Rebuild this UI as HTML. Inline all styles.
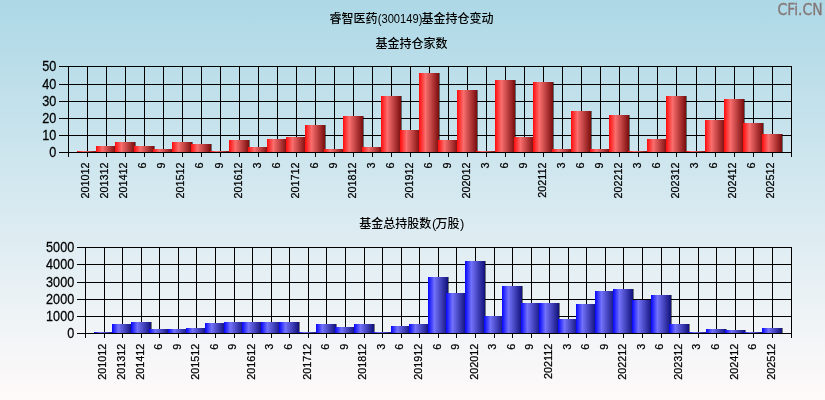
<!DOCTYPE html>
<html lang="zh-CN"><head><meta charset="utf-8"><title>睿智医药(300149)基金持仓变动</title>
<style>html,body{margin:0;padding:0;background:#fff;}body{width:825px;height:400px;overflow:hidden;}svg{display:block;}text{font-family:"Liberation Sans", "Noto Sans CJK SC", sans-serif;fill:#000;}.ax text{stroke:#000;stroke-width:0.25px;}.tt text{font-weight:500;}</style>
</head><body>
<svg width="825" height="400" viewBox="0 0 825 400">
<defs>
<linearGradient id="bg" x1="0" y1="0" x2="0" y2="1"><stop offset="0" stop-color="#add8e6"/><stop offset="1" stop-color="#fffafa"/></linearGradient>
<linearGradient id="gr" x1="0" y1="0" x2="1" y2="0"><stop offset="0" stop-color="#ff0a0a"/><stop offset="0.32" stop-color="#fa6e6e"/><stop offset="1" stop-color="#7a0c0c"/></linearGradient>
<linearGradient id="gb" x1="0" y1="0" x2="1" y2="0"><stop offset="0" stop-color="#0505ff"/><stop offset="0.32" stop-color="#7272fa"/><stop offset="1" stop-color="#10107a"/></linearGradient>
</defs>
<rect x="0" y="0" width="825" height="400" fill="url(#bg)"/>
<g shape-rendering="crispEdges"><rect x="59" y="152" width="733" height="1" fill="#000"/><rect x="59" y="135" width="733" height="1" fill="#000"/><rect x="59" y="118" width="733" height="1" fill="#000"/><rect x="59" y="101" width="733" height="1" fill="#000"/><rect x="59" y="84" width="733" height="1" fill="#000"/><rect x="59" y="66" width="733" height="1" fill="#000"/><rect x="68" y="66" width="1" height="91" fill="#000"/><rect x="87" y="66" width="1" height="91" fill="#000"/><rect x="106" y="66" width="1" height="91" fill="#000"/><rect x="125" y="66" width="1" height="91" fill="#000"/><rect x="144" y="66" width="1" height="91" fill="#000"/><rect x="163" y="66" width="1" height="91" fill="#000"/><rect x="182" y="66" width="1" height="91" fill="#000"/><rect x="201" y="66" width="1" height="91" fill="#000"/><rect x="220" y="66" width="1" height="91" fill="#000"/><rect x="239" y="66" width="1" height="91" fill="#000"/><rect x="258" y="66" width="1" height="91" fill="#000"/><rect x="277" y="66" width="1" height="91" fill="#000"/><rect x="296" y="66" width="1" height="91" fill="#000"/><rect x="315" y="66" width="1" height="91" fill="#000"/><rect x="334" y="66" width="1" height="91" fill="#000"/><rect x="353" y="66" width="1" height="91" fill="#000"/><rect x="372" y="66" width="1" height="91" fill="#000"/><rect x="391" y="66" width="1" height="91" fill="#000"/><rect x="410" y="66" width="1" height="91" fill="#000"/><rect x="429" y="66" width="1" height="91" fill="#000"/><rect x="448" y="66" width="1" height="91" fill="#000"/><rect x="467" y="66" width="1" height="91" fill="#000"/><rect x="486" y="66" width="1" height="91" fill="#000"/><rect x="505" y="66" width="1" height="91" fill="#000"/><rect x="524" y="66" width="1" height="91" fill="#000"/><rect x="543" y="66" width="1" height="91" fill="#000"/><rect x="562" y="66" width="1" height="91" fill="#000"/><rect x="581" y="66" width="1" height="91" fill="#000"/><rect x="600" y="66" width="1" height="91" fill="#000"/><rect x="619" y="66" width="1" height="91" fill="#000"/><rect x="638" y="66" width="1" height="91" fill="#000"/><rect x="657" y="66" width="1" height="91" fill="#000"/><rect x="676" y="66" width="1" height="91" fill="#000"/><rect x="696" y="66" width="1" height="91" fill="#000"/><rect x="715" y="66" width="1" height="91" fill="#000"/><rect x="734" y="66" width="1" height="91" fill="#000"/><rect x="753" y="66" width="1" height="91" fill="#000"/><rect x="772" y="66" width="1" height="91" fill="#000"/><rect x="791" y="66" width="1" height="91" fill="#000"/></g>
<g><rect x="78" y="151" width="20" height="1" fill="#000" fill-opacity="0.5"/><rect x="77" y="151" width="20" height="1" fill="url(#gr)"/><rect x="97" y="146" width="20" height="6" fill="#000" fill-opacity="0.5"/><rect x="96" y="146" width="20" height="6" fill="url(#gr)"/><rect x="116" y="142" width="20" height="10" fill="#000" fill-opacity="0.5"/><rect x="115" y="142" width="20" height="10" fill="url(#gr)"/><rect x="135" y="146" width="20" height="6" fill="#000" fill-opacity="0.5"/><rect x="134" y="146" width="20" height="6" fill="url(#gr)"/><rect x="154" y="149" width="20" height="3" fill="#000" fill-opacity="0.5"/><rect x="153" y="149" width="20" height="3" fill="url(#gr)"/><rect x="173" y="142" width="20" height="10" fill="#000" fill-opacity="0.5"/><rect x="172" y="142" width="20" height="10" fill="url(#gr)"/><rect x="192" y="144" width="20" height="8" fill="#000" fill-opacity="0.5"/><rect x="191" y="144" width="20" height="8" fill="url(#gr)"/><rect x="211" y="151" width="20" height="1" fill="#000" fill-opacity="0.5"/><rect x="210" y="151" width="20" height="1" fill="url(#gr)"/><rect x="230" y="140" width="20" height="12" fill="#000" fill-opacity="0.5"/><rect x="229" y="140" width="20" height="12" fill="url(#gr)"/><rect x="249" y="147" width="20" height="5" fill="#000" fill-opacity="0.5"/><rect x="248" y="147" width="20" height="5" fill="url(#gr)"/><rect x="268" y="139" width="20" height="13" fill="#000" fill-opacity="0.5"/><rect x="267" y="139" width="20" height="13" fill="url(#gr)"/><rect x="287" y="137" width="20" height="15" fill="#000" fill-opacity="0.5"/><rect x="286" y="137" width="20" height="15" fill="url(#gr)"/><rect x="306" y="125" width="20" height="27" fill="#000" fill-opacity="0.5"/><rect x="305" y="125" width="20" height="27" fill="url(#gr)"/><rect x="325" y="149" width="20" height="3" fill="#000" fill-opacity="0.5"/><rect x="324" y="149" width="20" height="3" fill="url(#gr)"/><rect x="344" y="116" width="20" height="36" fill="#000" fill-opacity="0.5"/><rect x="343" y="116" width="20" height="36" fill="url(#gr)"/><rect x="363" y="147" width="20" height="5" fill="#000" fill-opacity="0.5"/><rect x="362" y="147" width="20" height="5" fill="url(#gr)"/><rect x="382" y="96" width="20" height="56" fill="#000" fill-opacity="0.5"/><rect x="381" y="96" width="20" height="56" fill="url(#gr)"/><rect x="401" y="130" width="20" height="22" fill="#000" fill-opacity="0.5"/><rect x="400" y="130" width="20" height="22" fill="url(#gr)"/><rect x="420" y="73" width="20" height="79" fill="#000" fill-opacity="0.5"/><rect x="419" y="73" width="20" height="79" fill="url(#gr)"/><rect x="439" y="140" width="20" height="12" fill="#000" fill-opacity="0.5"/><rect x="438" y="140" width="20" height="12" fill="url(#gr)"/><rect x="458" y="90" width="20" height="62" fill="#000" fill-opacity="0.5"/><rect x="457" y="90" width="20" height="62" fill="url(#gr)"/><rect x="477" y="151" width="20" height="1" fill="#000" fill-opacity="0.5"/><rect x="476" y="151" width="20" height="1" fill="url(#gr)"/><rect x="496" y="80" width="20" height="72" fill="#000" fill-opacity="0.5"/><rect x="495" y="80" width="20" height="72" fill="url(#gr)"/><rect x="515" y="137" width="20" height="15" fill="#000" fill-opacity="0.5"/><rect x="514" y="137" width="20" height="15" fill="url(#gr)"/><rect x="534" y="82" width="20" height="70" fill="#000" fill-opacity="0.5"/><rect x="533" y="82" width="20" height="70" fill="url(#gr)"/><rect x="553" y="149" width="20" height="3" fill="#000" fill-opacity="0.5"/><rect x="552" y="149" width="20" height="3" fill="url(#gr)"/><rect x="572" y="111" width="20" height="41" fill="#000" fill-opacity="0.5"/><rect x="571" y="111" width="20" height="41" fill="url(#gr)"/><rect x="591" y="149" width="20" height="3" fill="#000" fill-opacity="0.5"/><rect x="590" y="149" width="20" height="3" fill="url(#gr)"/><rect x="610" y="115" width="20" height="37" fill="#000" fill-opacity="0.5"/><rect x="609" y="115" width="20" height="37" fill="url(#gr)"/><rect x="629" y="151" width="20" height="1" fill="#000" fill-opacity="0.5"/><rect x="628" y="151" width="20" height="1" fill="url(#gr)"/><rect x="648" y="139" width="20" height="13" fill="#000" fill-opacity="0.5"/><rect x="647" y="139" width="20" height="13" fill="url(#gr)"/><rect x="667" y="96" width="20" height="56" fill="#000" fill-opacity="0.5"/><rect x="666" y="96" width="20" height="56" fill="url(#gr)"/><rect x="687" y="151" width="20" height="1" fill="#000" fill-opacity="0.5"/><rect x="686" y="151" width="20" height="1" fill="url(#gr)"/><rect x="706" y="120" width="20" height="32" fill="#000" fill-opacity="0.5"/><rect x="705" y="120" width="20" height="32" fill="url(#gr)"/><rect x="725" y="99" width="20" height="53" fill="#000" fill-opacity="0.5"/><rect x="724" y="99" width="20" height="53" fill="url(#gr)"/><rect x="744" y="123" width="20" height="29" fill="#000" fill-opacity="0.5"/><rect x="743" y="123" width="20" height="29" fill="url(#gr)"/><rect x="763" y="134" width="20" height="18" fill="#000" fill-opacity="0.5"/><rect x="762" y="134" width="20" height="18" fill="url(#gr)"/></g>
<rect x="59" y="152" width="733" height="1" fill="#000" shape-rendering="crispEdges"/>
<g class="ax"><text transform="translate(56.3 157.4) scale(0.89 1)" text-anchor="end" font-size="14.2">0</text><text transform="translate(56.3 140.4) scale(0.89 1)" text-anchor="end" font-size="14.2">10</text><text transform="translate(56.3 123.4) scale(0.89 1)" text-anchor="end" font-size="14.2">20</text><text transform="translate(56.3 106.4) scale(0.89 1)" text-anchor="end" font-size="14.2">30</text><text transform="translate(56.3 89.4) scale(0.89 1)" text-anchor="end" font-size="14.2">40</text><text transform="translate(56.3 71.4) scale(0.89 1)" text-anchor="end" font-size="14.2">50</text><text transform="translate(89.2 162.5) rotate(-90) scale(0.93 1)" text-anchor="end" font-size="11.6">201012</text><text transform="translate(108.3 162.5) rotate(-90) scale(0.93 1)" text-anchor="end" font-size="11.6">201312</text><text transform="translate(127.3 162.5) rotate(-90) scale(0.93 1)" text-anchor="end" font-size="11.6">201412</text><text transform="translate(146.3 162.5) rotate(-90) scale(0.93 1)" text-anchor="end" font-size="11.6">6</text><text transform="translate(165.4 162.5) rotate(-90) scale(0.93 1)" text-anchor="end" font-size="11.6">9</text><text transform="translate(184.4 162.5) rotate(-90) scale(0.93 1)" text-anchor="end" font-size="11.6">201512</text><text transform="translate(203.4 162.5) rotate(-90) scale(0.93 1)" text-anchor="end" font-size="11.6">6</text><text transform="translate(222.5 162.5) rotate(-90) scale(0.93 1)" text-anchor="end" font-size="11.6">9</text><text transform="translate(241.5 162.5) rotate(-90) scale(0.93 1)" text-anchor="end" font-size="11.6">201612</text><text transform="translate(260.5 162.5) rotate(-90) scale(0.93 1)" text-anchor="end" font-size="11.6">3</text><text transform="translate(279.6 162.5) rotate(-90) scale(0.93 1)" text-anchor="end" font-size="11.6">6</text><text transform="translate(298.6 162.5) rotate(-90) scale(0.93 1)" text-anchor="end" font-size="11.6">201712</text><text transform="translate(317.6 162.5) rotate(-90) scale(0.93 1)" text-anchor="end" font-size="11.6">6</text><text transform="translate(336.6 162.5) rotate(-90) scale(0.93 1)" text-anchor="end" font-size="11.6">9</text><text transform="translate(355.7 162.5) rotate(-90) scale(0.93 1)" text-anchor="end" font-size="11.6">201812</text><text transform="translate(374.7 162.5) rotate(-90) scale(0.93 1)" text-anchor="end" font-size="11.6">3</text><text transform="translate(393.7 162.5) rotate(-90) scale(0.93 1)" text-anchor="end" font-size="11.6">6</text><text transform="translate(412.8 162.5) rotate(-90) scale(0.93 1)" text-anchor="end" font-size="11.6">201912</text><text transform="translate(431.8 162.5) rotate(-90) scale(0.93 1)" text-anchor="end" font-size="11.6">6</text><text transform="translate(450.8 162.5) rotate(-90) scale(0.93 1)" text-anchor="end" font-size="11.6">9</text><text transform="translate(469.8 162.5) rotate(-90) scale(0.93 1)" text-anchor="end" font-size="11.6">202012</text><text transform="translate(488.9 162.5) rotate(-90) scale(0.93 1)" text-anchor="end" font-size="11.6">3</text><text transform="translate(507.9 162.5) rotate(-90) scale(0.93 1)" text-anchor="end" font-size="11.6">6</text><text transform="translate(526.9 162.5) rotate(-90) scale(0.93 1)" text-anchor="end" font-size="11.6">9</text><text transform="translate(546.0 162.5) rotate(-90) scale(0.93 1)" text-anchor="end" font-size="11.6">202112</text><text transform="translate(565.0 162.5) rotate(-90) scale(0.93 1)" text-anchor="end" font-size="11.6">3</text><text transform="translate(584.0 162.5) rotate(-90) scale(0.93 1)" text-anchor="end" font-size="11.6">6</text><text transform="translate(603.1 162.5) rotate(-90) scale(0.93 1)" text-anchor="end" font-size="11.6">9</text><text transform="translate(622.1 162.5) rotate(-90) scale(0.93 1)" text-anchor="end" font-size="11.6">202212</text><text transform="translate(641.1 162.5) rotate(-90) scale(0.93 1)" text-anchor="end" font-size="11.6">3</text><text transform="translate(660.2 162.5) rotate(-90) scale(0.93 1)" text-anchor="end" font-size="11.6">6</text><text transform="translate(679.2 162.5) rotate(-90) scale(0.93 1)" text-anchor="end" font-size="11.6">202312</text><text transform="translate(698.2 162.5) rotate(-90) scale(0.93 1)" text-anchor="end" font-size="11.6">3</text><text transform="translate(717.2 162.5) rotate(-90) scale(0.93 1)" text-anchor="end" font-size="11.6">6</text><text transform="translate(736.3 162.5) rotate(-90) scale(0.93 1)" text-anchor="end" font-size="11.6">202412</text><text transform="translate(755.3 162.5) rotate(-90) scale(0.93 1)" text-anchor="end" font-size="11.6">6</text><text transform="translate(774.3 162.5) rotate(-90) scale(0.93 1)" text-anchor="end" font-size="11.6">202512</text></g>
<g shape-rendering="crispEdges"><rect x="77" y="333" width="715" height="1" fill="#000"/><rect x="77" y="316" width="715" height="1" fill="#000"/><rect x="77" y="299" width="715" height="1" fill="#000"/><rect x="77" y="282" width="715" height="1" fill="#000"/><rect x="77" y="264" width="715" height="1" fill="#000"/><rect x="77" y="247" width="715" height="1" fill="#000"/><rect x="85" y="247" width="1" height="91" fill="#000"/><rect x="104" y="247" width="1" height="91" fill="#000"/><rect x="122" y="247" width="1" height="91" fill="#000"/><rect x="141" y="247" width="1" height="91" fill="#000"/><rect x="159" y="247" width="1" height="91" fill="#000"/><rect x="178" y="247" width="1" height="91" fill="#000"/><rect x="196" y="247" width="1" height="91" fill="#000"/><rect x="215" y="247" width="1" height="91" fill="#000"/><rect x="234" y="247" width="1" height="91" fill="#000"/><rect x="252" y="247" width="1" height="91" fill="#000"/><rect x="271" y="247" width="1" height="91" fill="#000"/><rect x="289" y="247" width="1" height="91" fill="#000"/><rect x="308" y="247" width="1" height="91" fill="#000"/><rect x="326" y="247" width="1" height="91" fill="#000"/><rect x="345" y="247" width="1" height="91" fill="#000"/><rect x="364" y="247" width="1" height="91" fill="#000"/><rect x="382" y="247" width="1" height="91" fill="#000"/><rect x="401" y="247" width="1" height="91" fill="#000"/><rect x="419" y="247" width="1" height="91" fill="#000"/><rect x="438" y="247" width="1" height="91" fill="#000"/><rect x="456" y="247" width="1" height="91" fill="#000"/><rect x="475" y="247" width="1" height="91" fill="#000"/><rect x="494" y="247" width="1" height="91" fill="#000"/><rect x="512" y="247" width="1" height="91" fill="#000"/><rect x="531" y="247" width="1" height="91" fill="#000"/><rect x="549" y="247" width="1" height="91" fill="#000"/><rect x="568" y="247" width="1" height="91" fill="#000"/><rect x="586" y="247" width="1" height="91" fill="#000"/><rect x="605" y="247" width="1" height="91" fill="#000"/><rect x="623" y="247" width="1" height="91" fill="#000"/><rect x="642" y="247" width="1" height="91" fill="#000"/><rect x="661" y="247" width="1" height="91" fill="#000"/><rect x="679" y="247" width="1" height="91" fill="#000"/><rect x="698" y="247" width="1" height="91" fill="#000"/><rect x="716" y="247" width="1" height="91" fill="#000"/><rect x="735" y="247" width="1" height="91" fill="#000"/><rect x="753" y="247" width="1" height="91" fill="#000"/><rect x="772" y="247" width="1" height="91" fill="#000"/><rect x="791" y="247" width="1" height="91" fill="#000"/></g>
<g><rect x="95" y="332" width="20" height="1" fill="#000" fill-opacity="0.5"/><rect x="94" y="332" width="20" height="1" fill="url(#gb)"/><rect x="113" y="324" width="20" height="9" fill="#000" fill-opacity="0.5"/><rect x="112" y="324" width="20" height="9" fill="url(#gb)"/><rect x="132" y="322" width="20" height="11" fill="#000" fill-opacity="0.5"/><rect x="131" y="322" width="20" height="11" fill="url(#gb)"/><rect x="150" y="329" width="20" height="4" fill="#000" fill-opacity="0.5"/><rect x="149" y="329" width="20" height="4" fill="url(#gb)"/><rect x="169" y="329" width="20" height="4" fill="#000" fill-opacity="0.5"/><rect x="168" y="329" width="20" height="4" fill="url(#gb)"/><rect x="187" y="328" width="20" height="5" fill="#000" fill-opacity="0.5"/><rect x="186" y="328" width="20" height="5" fill="url(#gb)"/><rect x="206" y="323" width="20" height="10" fill="#000" fill-opacity="0.5"/><rect x="205" y="323" width="20" height="10" fill="url(#gb)"/><rect x="225" y="322" width="20" height="11" fill="#000" fill-opacity="0.5"/><rect x="224" y="322" width="20" height="11" fill="url(#gb)"/><rect x="243" y="322" width="20" height="11" fill="#000" fill-opacity="0.5"/><rect x="242" y="322" width="20" height="11" fill="url(#gb)"/><rect x="262" y="322" width="20" height="11" fill="#000" fill-opacity="0.5"/><rect x="261" y="322" width="20" height="11" fill="url(#gb)"/><rect x="280" y="322" width="20" height="11" fill="#000" fill-opacity="0.5"/><rect x="279" y="322" width="20" height="11" fill="url(#gb)"/><rect x="299" y="332" width="20" height="1" fill="#000" fill-opacity="0.5"/><rect x="298" y="332" width="20" height="1" fill="url(#gb)"/><rect x="317" y="324" width="20" height="9" fill="#000" fill-opacity="0.5"/><rect x="316" y="324" width="20" height="9" fill="url(#gb)"/><rect x="336" y="327" width="20" height="6" fill="#000" fill-opacity="0.5"/><rect x="335" y="327" width="20" height="6" fill="url(#gb)"/><rect x="355" y="324" width="20" height="9" fill="#000" fill-opacity="0.5"/><rect x="354" y="324" width="20" height="9" fill="url(#gb)"/><rect x="373" y="332" width="20" height="1" fill="#000" fill-opacity="0.5"/><rect x="372" y="332" width="20" height="1" fill="url(#gb)"/><rect x="392" y="326" width="20" height="7" fill="#000" fill-opacity="0.5"/><rect x="391" y="326" width="20" height="7" fill="url(#gb)"/><rect x="410" y="324" width="20" height="9" fill="#000" fill-opacity="0.5"/><rect x="409" y="324" width="20" height="9" fill="url(#gb)"/><rect x="429" y="277" width="20" height="56" fill="#000" fill-opacity="0.5"/><rect x="428" y="277" width="20" height="56" fill="url(#gb)"/><rect x="447" y="293" width="20" height="40" fill="#000" fill-opacity="0.5"/><rect x="446" y="293" width="20" height="40" fill="url(#gb)"/><rect x="466" y="261" width="20" height="72" fill="#000" fill-opacity="0.5"/><rect x="465" y="261" width="20" height="72" fill="url(#gb)"/><rect x="485" y="316" width="20" height="17" fill="#000" fill-opacity="0.5"/><rect x="484" y="316" width="20" height="17" fill="url(#gb)"/><rect x="503" y="286" width="20" height="47" fill="#000" fill-opacity="0.5"/><rect x="502" y="286" width="20" height="47" fill="url(#gb)"/><rect x="522" y="303" width="20" height="30" fill="#000" fill-opacity="0.5"/><rect x="521" y="303" width="20" height="30" fill="url(#gb)"/><rect x="540" y="303" width="20" height="30" fill="#000" fill-opacity="0.5"/><rect x="539" y="303" width="20" height="30" fill="url(#gb)"/><rect x="559" y="319" width="20" height="14" fill="#000" fill-opacity="0.5"/><rect x="558" y="319" width="20" height="14" fill="url(#gb)"/><rect x="577" y="304" width="20" height="29" fill="#000" fill-opacity="0.5"/><rect x="576" y="304" width="20" height="29" fill="url(#gb)"/><rect x="596" y="291" width="20" height="42" fill="#000" fill-opacity="0.5"/><rect x="595" y="291" width="20" height="42" fill="url(#gb)"/><rect x="614" y="289" width="20" height="44" fill="#000" fill-opacity="0.5"/><rect x="613" y="289" width="20" height="44" fill="url(#gb)"/><rect x="633" y="300" width="20" height="33" fill="#000" fill-opacity="0.5"/><rect x="632" y="300" width="20" height="33" fill="url(#gb)"/><rect x="652" y="295" width="20" height="38" fill="#000" fill-opacity="0.5"/><rect x="651" y="295" width="20" height="38" fill="url(#gb)"/><rect x="670" y="324" width="20" height="9" fill="#000" fill-opacity="0.5"/><rect x="669" y="324" width="20" height="9" fill="url(#gb)"/><rect x="689" y="332" width="20" height="1" fill="#000" fill-opacity="0.5"/><rect x="688" y="332" width="20" height="1" fill="url(#gb)"/><rect x="707" y="329" width="20" height="4" fill="#000" fill-opacity="0.5"/><rect x="706" y="329" width="20" height="4" fill="url(#gb)"/><rect x="726" y="330" width="20" height="3" fill="#000" fill-opacity="0.5"/><rect x="725" y="330" width="20" height="3" fill="url(#gb)"/><rect x="744" y="332" width="20" height="1" fill="#000" fill-opacity="0.5"/><rect x="743" y="332" width="20" height="1" fill="url(#gb)"/><rect x="763" y="328" width="20" height="5" fill="#000" fill-opacity="0.5"/><rect x="762" y="328" width="20" height="5" fill="url(#gb)"/></g>
<rect x="77" y="333" width="715" height="1" fill="#000" shape-rendering="crispEdges"/>
<g class="ax"><text transform="translate(74.2 338.4) scale(0.89 1)" text-anchor="end" font-size="14.2">0</text><text transform="translate(74.2 321.4) scale(0.89 1)" text-anchor="end" font-size="14.2">1000</text><text transform="translate(74.2 304.4) scale(0.89 1)" text-anchor="end" font-size="14.2">2000</text><text transform="translate(74.2 287.4) scale(0.89 1)" text-anchor="end" font-size="14.2">3000</text><text transform="translate(74.2 269.4) scale(0.89 1)" text-anchor="end" font-size="14.2">4000</text><text transform="translate(74.2 252.4) scale(0.89 1)" text-anchor="end" font-size="14.2">5000</text><text transform="translate(106.4 343.8) rotate(-90) scale(0.93 1)" text-anchor="end" font-size="11.6">201012</text><text transform="translate(124.9 343.8) rotate(-90) scale(0.93 1)" text-anchor="end" font-size="11.6">201312</text><text transform="translate(143.5 343.8) rotate(-90) scale(0.93 1)" text-anchor="end" font-size="11.6">201412</text><text transform="translate(162.1 343.8) rotate(-90) scale(0.93 1)" text-anchor="end" font-size="11.6">6</text><text transform="translate(180.6 343.8) rotate(-90) scale(0.93 1)" text-anchor="end" font-size="11.6">9</text><text transform="translate(199.2 343.8) rotate(-90) scale(0.93 1)" text-anchor="end" font-size="11.6">201512</text><text transform="translate(217.7 343.8) rotate(-90) scale(0.93 1)" text-anchor="end" font-size="11.6">6</text><text transform="translate(236.3 343.8) rotate(-90) scale(0.93 1)" text-anchor="end" font-size="11.6">9</text><text transform="translate(254.9 343.8) rotate(-90) scale(0.93 1)" text-anchor="end" font-size="11.6">201612</text><text transform="translate(273.4 343.8) rotate(-90) scale(0.93 1)" text-anchor="end" font-size="11.6">3</text><text transform="translate(292.0 343.8) rotate(-90) scale(0.93 1)" text-anchor="end" font-size="11.6">6</text><text transform="translate(310.6 343.8) rotate(-90) scale(0.93 1)" text-anchor="end" font-size="11.6">201712</text><text transform="translate(329.1 343.8) rotate(-90) scale(0.93 1)" text-anchor="end" font-size="11.6">6</text><text transform="translate(347.7 343.8) rotate(-90) scale(0.93 1)" text-anchor="end" font-size="11.6">9</text><text transform="translate(366.3 343.8) rotate(-90) scale(0.93 1)" text-anchor="end" font-size="11.6">201812</text><text transform="translate(384.8 343.8) rotate(-90) scale(0.93 1)" text-anchor="end" font-size="11.6">3</text><text transform="translate(403.4 343.8) rotate(-90) scale(0.93 1)" text-anchor="end" font-size="11.6">6</text><text transform="translate(422.0 343.8) rotate(-90) scale(0.93 1)" text-anchor="end" font-size="11.6">201912</text><text transform="translate(440.5 343.8) rotate(-90) scale(0.93 1)" text-anchor="end" font-size="11.6">6</text><text transform="translate(459.1 343.8) rotate(-90) scale(0.93 1)" text-anchor="end" font-size="11.6">9</text><text transform="translate(477.6 343.8) rotate(-90) scale(0.93 1)" text-anchor="end" font-size="11.6">202012</text><text transform="translate(496.2 343.8) rotate(-90) scale(0.93 1)" text-anchor="end" font-size="11.6">3</text><text transform="translate(514.8 343.8) rotate(-90) scale(0.93 1)" text-anchor="end" font-size="11.6">6</text><text transform="translate(533.3 343.8) rotate(-90) scale(0.93 1)" text-anchor="end" font-size="11.6">9</text><text transform="translate(551.9 343.8) rotate(-90) scale(0.93 1)" text-anchor="end" font-size="11.6">202112</text><text transform="translate(570.5 343.8) rotate(-90) scale(0.93 1)" text-anchor="end" font-size="11.6">3</text><text transform="translate(589.0 343.8) rotate(-90) scale(0.93 1)" text-anchor="end" font-size="11.6">6</text><text transform="translate(607.6 343.8) rotate(-90) scale(0.93 1)" text-anchor="end" font-size="11.6">9</text><text transform="translate(626.2 343.8) rotate(-90) scale(0.93 1)" text-anchor="end" font-size="11.6">202212</text><text transform="translate(644.7 343.8) rotate(-90) scale(0.93 1)" text-anchor="end" font-size="11.6">3</text><text transform="translate(663.3 343.8) rotate(-90) scale(0.93 1)" text-anchor="end" font-size="11.6">6</text><text transform="translate(681.8 343.8) rotate(-90) scale(0.93 1)" text-anchor="end" font-size="11.6">202312</text><text transform="translate(700.4 343.8) rotate(-90) scale(0.93 1)" text-anchor="end" font-size="11.6">3</text><text transform="translate(719.0 343.8) rotate(-90) scale(0.93 1)" text-anchor="end" font-size="11.6">6</text><text transform="translate(737.5 343.8) rotate(-90) scale(0.93 1)" text-anchor="end" font-size="11.6">202412</text><text transform="translate(756.1 343.8) rotate(-90) scale(0.93 1)" text-anchor="end" font-size="11.6">6</text><text transform="translate(774.7 343.8) rotate(-90) scale(0.93 1)" text-anchor="end" font-size="11.6">202512</text></g>
<g class="tt">
<text x="377.4" y="22.8" text-anchor="end" font-size="12">睿智医药</text>
<text transform="translate(377.7 22.6) scale(0.835 1)" font-size="13.4">(300149)</text>
<text x="421.6" y="22.8" font-size="12">基金持仓变动</text>
<text x="411.6" y="47.5" text-anchor="middle" font-size="12">基金持仓家数</text>
<text x="431.3" y="228.4" text-anchor="end" font-size="12">基金总持股数</text>
<text x="432.0" y="227.6" font-size="13">(</text>
<text x="435.6" y="228.4" font-size="12">万股</text>
<text x="459.9" y="227.6" font-size="13">)</text>
</g>
<text transform="translate(822.6 14.9) scale(0.905 1)" text-anchor="end" font-size="15.4" style="fill:#857878;stroke:#857878;stroke-width:0.35;font-family:'DejaVu Sans','Liberation Sans',sans-serif">CFi.CN</text>
</svg>
</body></html>
